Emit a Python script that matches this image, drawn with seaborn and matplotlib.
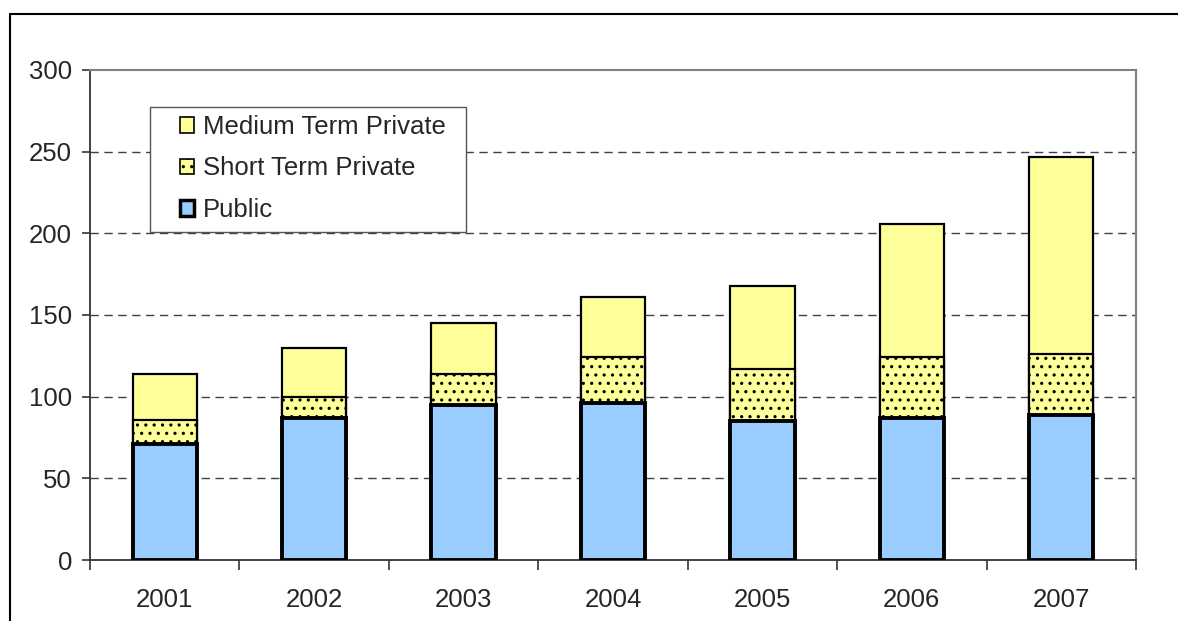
import numpy as np
import pandas as pd
import matplotlib
matplotlib.use("Agg")
import matplotlib.pyplot as plt
from matplotlib.patches import Patch, Rectangle
from matplotlib.lines import Line2D
import seaborn as sns

# Data
years = ["2001", "2002", "2003", "2004", "2005", "2006", "2007"]
public = [71, 87, 95, 96, 85, 87, 89]
short_term = [15, 13, 19, 28, 32, 37, 37]
medium_term = [28, 30, 31, 37, 51, 82, 121]

df = pd.DataFrame({
    "year": years,
    "public": public,
    "short": short_term,
    "medium": medium_term,
})
df["top_short"] = df["public"] + df["short"]
df["top_medium"] = df["top_short"] + df["medium"]

BLUE = "#99CCFF"
YELLOW = "#FFFF99"
FS = 18.5

sns.set_style("white")
plt.rcParams["font.family"] = ["Liberation Sans", "DejaVu Sans"]
plt.rcParams["hatch.linewidth"] = 1.1

fig = plt.figure(figsize=(11.78, 6.21), dpi=100)
ax = fig.add_axes([90 / 1178, 61 / 621, 1046 / 1178, 490 / 621])

# stacked bars drawn as cumulative totals, tallest first
sns.barplot(data=df, x="year", y="top_medium", color=YELLOW, saturation=1,
            width=0.43, edgecolor="black", linewidth=1.6, ax=ax, zorder=3)
sns.barplot(data=df, x="year", y="top_short", color=YELLOW, saturation=1,
            width=0.43, edgecolor="black", linewidth=1.6, hatch="..", ax=ax, zorder=4)
sns.barplot(data=df, x="year", y="public", color=BLUE, saturation=1,
            width=0.43, edgecolor="black", linewidth=2.8, ax=ax, zorder=5)

ax.set_ylim(0, 300)
ax.set_xlim(-0.5, len(years) - 0.5)
ax.set_yticks(np.arange(0, 301, 50))
ax.set_xlabel("")
ax.set_ylabel("")

# gridlines
for v in range(50, 300, 50):
    ax.axhline(v, color="#404040", lw=1.0, ls=(0, (6, 4)), zorder=1)

# axes frame
for side in ["top", "right"]:
    ax.spines[side].set_color("#808080")
    ax.spines[side].set_linewidth(1.5)
for side in ["left", "bottom"]:
    ax.spines[side].set_color("#333333")
    ax.spines[side].set_linewidth(1.3)

ax.tick_params(axis="y", direction="out", length=6, width=1.2, color="#333333",
               labelsize=FS, pad=7, left=True)
ax.set_xticks(np.arange(-0.5, len(years), 1.0), minor=True)
ax.tick_params(axis="x", which="major", length=0, labelsize=FS, pad=20)
ax.tick_params(axis="x", which="minor", direction="out", length=7, width=1.2,
               color="#333333", bottom=True)

# legend box drawn separately so the padding can be wider at the left
ax.add_patch(Rectangle((60 / 1046, 328 / 490), 316 / 1046, 125 / 490,
                       transform=ax.transAxes, facecolor="white",
                       edgecolor="#555555", lw=1.0, zorder=9))
handles = [
    Patch(facecolor=YELLOW, edgecolor="black", linewidth=1.2, label="Medium Term Private"),
    Patch(facecolor=YELLOW, edgecolor="black", linewidth=1.2, hatch="..", label="Short Term Private"),
    Patch(facecolor=BLUE, edgecolor="black", linewidth=2.5, label="Public"),
]
leg = ax.legend(handles=handles, loc="upper left",
                bbox_to_anchor=(90 / 1046, 445 / 490), borderaxespad=0,
                fontsize=FS, frameon=False, handlelength=0.55, handleheight=0.55,
                handletextpad=0.35, labelspacing=0.68, borderpad=0)
leg.set_zorder(10)

# outer chart border (top and left edges visible)
fig.add_artist(Line2D([10 / 1178, 1.0], [1 - 14 / 621, 1 - 14 / 621],
                      transform=fig.transFigure, color="black", lw=1.5))
fig.add_artist(Line2D([10 / 1178, 10 / 1178], [0.0, 1 - 14 / 621],
                      transform=fig.transFigure, color="black", lw=1.5))

fig.savefig("out.png", dpi=100)
